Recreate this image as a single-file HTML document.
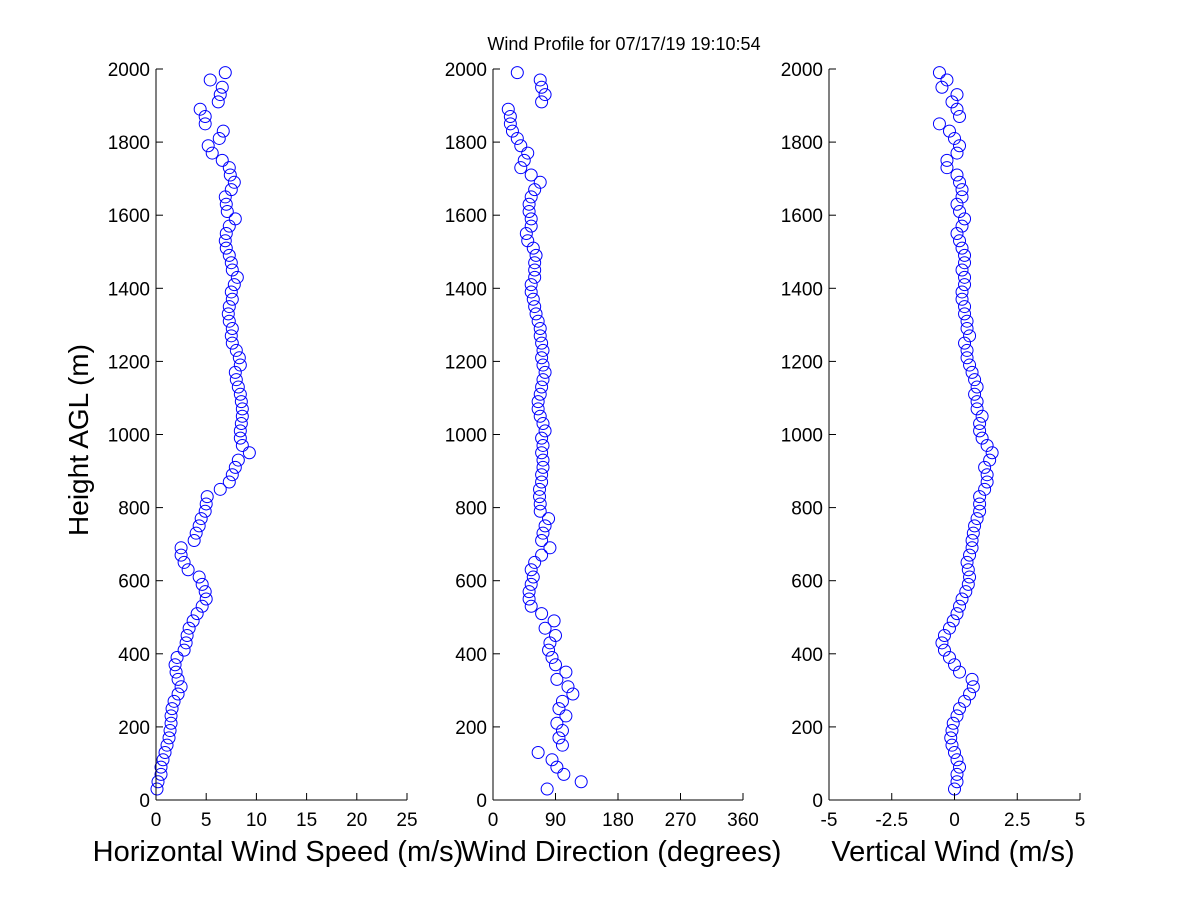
<!DOCTYPE html>
<html><head><meta charset="utf-8"><style>
html,body{margin:0;padding:0;background:#fff}
svg{display:block;font-family:"Liberation Sans",Arial,sans-serif}
</style></head><body>
<svg id="fig" width="1200" height="900" viewBox="0 0 1200 900">
<rect width="1200" height="900" fill="#fff"/>
<text x="624" y="50" font-size="18" text-anchor="middle">Wind Profile for  07/17/19 19:10:54</text>
<text transform="translate(88,440) rotate(-90)" font-size="28" text-anchor="middle">Height AGL (m)</text>
</svg>
<script>
const heights=[30,50,70,90,110,130,150,170,190,210,230,250,270,290,310,330,350,370,390,410,430,450,470,490,510,530,550,570,590,610,630,650,670,690,710,730,750,770,790,810,830,850,870,890,910,930,950,970,990,1010,1030,1050,1070,1090,1110,1130,1150,1170,1190,1210,1230,1250,1270,1290,1310,1330,1350,1370,1390,1410,1430,1450,1470,1490,1510,1530,1550,1570,1590,1610,1630,1650,1670,1690,1710,1730,1750,1770,1790,1810,1830,1850,1870,1890,1910,1930,1950,1970,1990];
const speed=[0.1,0.2,0.5,0.5,0.7,0.9,1.1,1.3,1.4,1.5,1.5,1.6,1.8,2.2,2.5,2.2,2.0,1.9,2.1,2.8,3.0,3.1,3.3,3.7,4.1,4.6,5.0,4.9,4.6,4.3,3.2,2.8,2.5,2.5,3.8,4.0,4.3,4.5,4.9,5.0,5.1,6.4,7.3,7.6,7.9,8.2,9.3,8.6,8.4,8.4,8.5,8.6,8.6,8.5,8.4,8.2,8.0,7.9,8.4,8.3,8.0,7.6,7.5,7.6,7.3,7.2,7.3,7.6,7.5,7.8,8.1,7.6,7.5,7.3,7.0,6.9,7.0,7.3,7.9,7.1,7.0,6.9,7.5,7.8,7.4,7.3,6.6,5.6,5.2,6.3,6.7,4.9,4.9,4.4,6.2,6.4,6.6,5.4,6.9];
const direction=[78,127,102,92,85,65,100,95,100,92,105,95,100,115,108,92,105,90,85,80,82,90,75,88,70,55,52,52,55,58,55,60,70,82,70,72,75,80,68,68,67,67,70,70,72,72,70,72,70,75,72,68,65,65,68,70,72,75,72,70,72,70,68,68,65,62,60,58,55,55,60,60,60,62,58,50,48,55,55,52,52,55,60,68,55,40,45,50,40,35,28,25,25,22,70,75,70,68,35];
const vertical=[0,0.1,0.1,0.2,0.1,0,-0.1,-0.15,-0.1,-0.05,0.1,0.2,0.4,0.6,0.75,0.7,0.2,0,-0.2,-0.4,-0.5,-0.4,-0.2,-0.05,0.1,0.2,0.3,0.45,0.55,0.6,0.55,0.5,0.6,0.7,0.7,0.75,0.8,0.9,1.0,1.0,1.0,1.2,1.3,1.3,1.2,1.4,1.5,1.3,1.1,1.0,1.0,1.1,0.9,0.9,0.8,0.9,0.8,0.7,0.6,0.5,0.5,0.4,0.6,0.5,0.5,0.4,0.4,0.3,0.3,0.4,0.4,0.3,0.4,0.4,0.3,0.2,0.1,0.3,0.4,0.2,0.1,0.3,0.3,0.2,0.1,-0.3,-0.3,0.1,0.2,0,-0.2,-0.6,0.2,0.1,-0.1,0.1,-0.5,-0.3,-0.6];
const yTicks=[0,200,400,600,800,1000,1200,1400,1600,1800,2000];
const speedTicks=["0","5","10","15","20","25"];
const dirTicks=["0","90","180","270","360"];
const vertTicks=["-5","-2.5","0","2.5","5"];

const NS="http://www.w3.org/2000/svg";
const svg=document.getElementById('fig');
const Y0=800,Y1=69;
function yScale(h){return Y0+(Y1-Y0)*h/2000;}
function mk(tag,attrs,parent){const e=document.createElementNS(NS,tag);for(const k in attrs)e.setAttribute(k,attrs[k]);(parent||svg).appendChild(e);return e;}

const panels=[
 {name:'speed',x0:156,x1:407,min:0,max:25,ticks:speedTicks,vals:speed,label:'Horizontal Wind Speed (m/s)',lx:278},
 {name:'direction',x0:493,x1:743,min:0,max:360,ticks:dirTicks,vals:direction,label:'Wind Direction (degrees)',lx:621},
 {name:'vertical',x0:829,x1:1080,min:-5,max:5,ticks:vertTicks,vals:vertical,label:'Vertical Wind (m/s)',lx:953}
];
panels.forEach(p=>{
 const g=mk('g',{});
 
 
 const xs=v=>p.x0+(p.x1-p.x0)*(v-p.min)/(p.max-p.min);
 const pg=mk('g',{},g);
 
 
 heights.forEach((h,i)=>{
  const c=mk('circle',{cx:xs(p.vals[i]),cy:yScale(h),r:6,fill:'none',stroke:'#0000ff','stroke-width':1},pg);
  
  
 });
 const ax=mk('line',{x1:p.x0,y1:Y0,x2:p.x1,y2:Y0,stroke:'#000','stroke-width':1},g);
 
 
 const ay=mk('line',{x1:p.x0,y1:Y0,x2:p.x0,y2:Y1,stroke:'#000','stroke-width':1},g);
 
 
 yTicks.forEach(t=>{
  const y=yScale(t);
  mk('line',{x1:p.x0,y1:y,x2:p.x0+7,y2:y,stroke:'#000'},g);
  const tx=mk('text',{x:p.x0-6,y:y+7,'font-size':19,'text-anchor':'end'},g);
  tx.textContent=t;
  
  
 });
 p.ticks.forEach(t=>{
  const x=xs(parseFloat(t));
  mk('line',{x1:x,y1:Y0,x2:x,y2:Y0-7,stroke:'#000'},g);
  const tx=mk('text',{x:x,y:826,'font-size':19,'text-anchor':'middle'},g);
  tx.textContent=t;
  
  
 });
 const lb=mk('text',{x:p.lx,y:861,'font-size':29,'text-anchor':'middle'},g);
 lb.textContent=p.label;
 
 
});
</script>
</body></html>
